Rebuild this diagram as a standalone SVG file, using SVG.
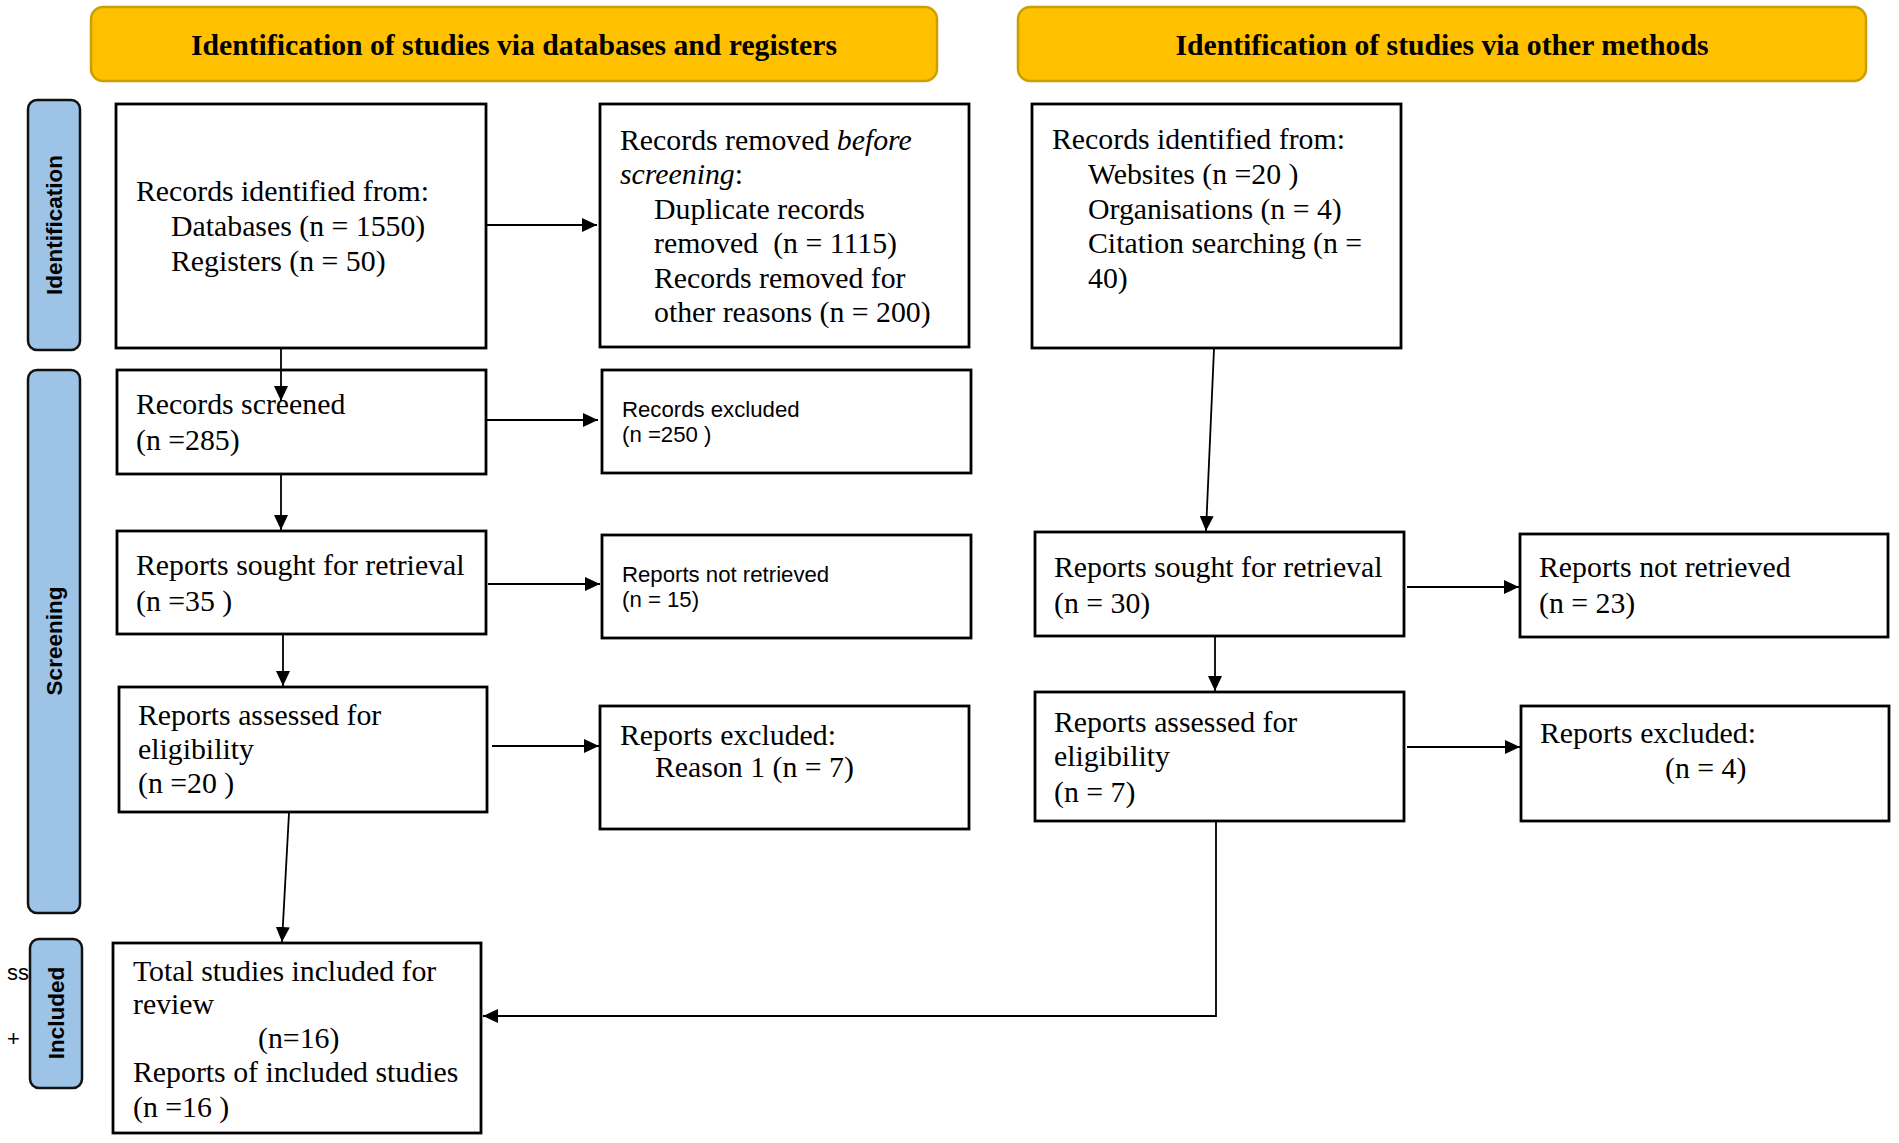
<svg xmlns="http://www.w3.org/2000/svg" width="1899" height="1143" viewBox="0 0 1899 1143">
<style>
.hdr{fill:#FFC000;stroke:#C9A000;stroke-width:2.5}
.hdrt{font-family:"Liberation Serif",serif;font-weight:bold;font-size:29.7px;fill:#000;text-anchor:middle}
.side{fill:#9DC3E6;stroke:#111;stroke-width:2.5}
.sidet{font-family:"Liberation Sans",Arial,sans-serif;font-weight:bold;font-size:22.5px;fill:#000;text-anchor:middle}
.box{fill:#fff;stroke:#000;stroke-width:2.8}
.t{font-family:"Liberation Serif",serif;font-size:29.8px;fill:#000}
.s{font-family:"Liberation Sans",Arial,sans-serif;font-size:22.2px;fill:#000}
.c{fill:none;stroke:#000;stroke-width:1.8}
</style>
<defs>
<marker id="ah" markerUnits="userSpaceOnUse" markerWidth="15" markerHeight="14" refX="15" refY="7" orient="auto">
<path d="M0,0 L15,7 L0,14 z" fill="#000"/>
</marker>
</defs>
<rect width="1899" height="1143" fill="#fff"/>

<g id="header-databases">
<rect class="hdr" x="91" y="7" width="846" height="74" rx="12"/>
<text class="hdrt" x="514" y="55">Identification of studies via databases and registers</text>
</g>
<g id="header-other">
<rect class="hdr" x="1018" y="7" width="848" height="74" rx="12"/>
<text class="hdrt" x="1442" y="55">Identification of studies via other methods</text>
</g>

<g id="side-identification">
<rect class="side" x="28" y="100" width="52" height="250" rx="9"/>
<text class="sidet" transform="translate(62,225) rotate(-90)">Identification</text>
</g>
<g id="side-screening">
<rect class="side" x="28" y="370" width="52" height="543" rx="9"/>
<text class="sidet" transform="translate(62,641) rotate(-90)">Screening</text>
</g>
<g id="side-included">
<rect class="side" x="30" y="939" width="52" height="149" rx="9"/>
<text class="sidet" transform="translate(64,1013) rotate(-90)">Included</text>
</g>
<g id="stray-text">
<text class="s" x="7" y="980" style="font-size:22px">ss</text>
<text class="s" x="7" y="1046" style="font-size:22px">+</text>
</g>

<g id="records-identified-db">
<rect class="box" x="116" y="104" width="370" height="244"/>
<text class="t" x="136" y="201">Records identified from:</text>
<text class="t" x="171" y="236">Databases (n = 1550)</text>
<text class="t" x="171" y="271">Registers (n = 50)</text>
</g>
<g id="records-removed">
<rect class="box" x="600" y="104" width="369" height="243"/>
<text class="t" x="620" y="150">Records removed <tspan font-style="italic">before</tspan></text>
<text class="t" x="620" y="184"><tspan font-style="italic">screening</tspan>:</text>
<text class="t" x="654" y="219">Duplicate records</text>
<text class="t" x="654" y="253">removed&#160; (n = 1115)</text>
<text class="t" x="654" y="288">Records removed for</text>
<text class="t" x="654" y="322">other reasons (n = 200)</text>
</g>
<g id="records-identified-other">
<rect class="box" x="1032" y="104" width="369" height="244"/>
<text class="t" x="1052" y="149">Records identified from:</text>
<text class="t" x="1088" y="184">Websites (n =20 )</text>
<text class="t" x="1088" y="219">Organisations (n = 4)</text>
<text class="t" x="1088" y="253">Citation searching (n =</text>
<text class="t" x="1088" y="288">40)</text>
</g>

<g id="records-screened">
<rect class="box" x="117" y="370" width="369" height="104"/>
<text class="t" x="136" y="414">Records screened</text>
<text class="t" x="136" y="450">(n =285)</text>
</g>
<g id="records-excluded">
<rect class="box" x="602" y="370" width="369" height="103"/>
<text class="s" x="622" y="417">Records excluded</text>
<text class="s" x="622" y="442">(n =250 )</text>
</g>

<g id="reports-sought-db">
<rect class="box" x="117" y="531" width="369" height="103"/>
<text class="t" x="136" y="575">Reports sought for retrieval</text>
<text class="t" x="136" y="611">(n =35 )</text>
</g>
<g id="reports-not-retrieved-db">
<rect class="box" x="602" y="535" width="369" height="103"/>
<text class="s" x="622" y="582">Reports not retrieved</text>
<text class="s" x="622" y="607">(n = 15)</text>
</g>

<g id="reports-assessed-db">
<rect class="box" x="119" y="687" width="368" height="125"/>
<text class="t" x="138" y="725">Reports assessed for</text>
<text class="t" x="138" y="759">eligibility</text>
<text class="t" x="138" y="793">(n =20 )</text>
</g>
<g id="reports-excluded-db">
<rect class="box" x="600" y="706" width="369" height="123"/>
<text class="t" x="620" y="745">Reports excluded:</text>
<text class="t" x="655" y="777">Reason 1 (n = 7)</text>
</g>

<g id="reports-sought-other">
<rect class="box" x="1035" y="532" width="369" height="104"/>
<text class="t" x="1054" y="577">Reports sought for retrieval</text>
<text class="t" x="1054" y="613">(n = 30)</text>
</g>
<g id="reports-not-retrieved-other">
<rect class="box" x="1520" y="534" width="368" height="103"/>
<text class="t" x="1539" y="577">Reports not retrieved</text>
<text class="t" x="1539" y="613">(n = 23)</text>
</g>

<g id="reports-assessed-other">
<rect class="box" x="1035" y="692" width="369" height="129"/>
<text class="t" x="1054" y="732">Reports assessed for</text>
<text class="t" x="1054" y="766">eligibility</text>
<text class="t" x="1054" y="802">(n = 7)</text>
</g>
<g id="reports-excluded-other">
<rect class="box" x="1521" y="706" width="368" height="115"/>
<text class="t" x="1540" y="743">Reports excluded:</text>
<text class="t" x="1665" y="778">(n = 4)</text>
</g>

<g id="total-included">
<rect class="box" x="113" y="943" width="368" height="190"/>
<text class="t" x="133" y="981">Total studies included for</text>
<text class="t" x="133" y="1014">review</text>
<text class="t" x="258" y="1048">(n=16)</text>
<text class="t" x="133" y="1082">Reports of included studies</text>
<text class="t" x="133" y="1117">(n =16 )</text>
</g>

<g id="connectors">
<line class="c" x1="281" y1="349" x2="281" y2="401" marker-end="url(#ah)"/>
<line class="c" x1="487" y1="225" x2="597" y2="225" marker-end="url(#ah)"/>
<line class="c" x1="487" y1="420" x2="598" y2="420" marker-end="url(#ah)"/>
<line class="c" x1="281" y1="475" x2="281" y2="530" marker-end="url(#ah)"/>
<line class="c" x1="488" y1="584" x2="600" y2="584" marker-end="url(#ah)"/>
<line class="c" x1="283" y1="635" x2="283" y2="686" marker-end="url(#ah)"/>
<line class="c" x1="492" y1="746" x2="599" y2="746" marker-end="url(#ah)"/>
<line class="c" x1="289" y1="813" x2="282" y2="942" marker-end="url(#ah)"/>
<line class="c" x1="1214" y1="349" x2="1206" y2="531" marker-end="url(#ah)"/>
<line class="c" x1="1407" y1="587" x2="1519" y2="587" marker-end="url(#ah)"/>
<line class="c" x1="1215" y1="637" x2="1215" y2="691" marker-end="url(#ah)"/>
<line class="c" x1="1407" y1="747" x2="1520" y2="747" marker-end="url(#ah)"/>
<polyline class="c" points="1216,822 1216,1016 483,1016" marker-end="url(#ah)"/>
</g>
</svg>
